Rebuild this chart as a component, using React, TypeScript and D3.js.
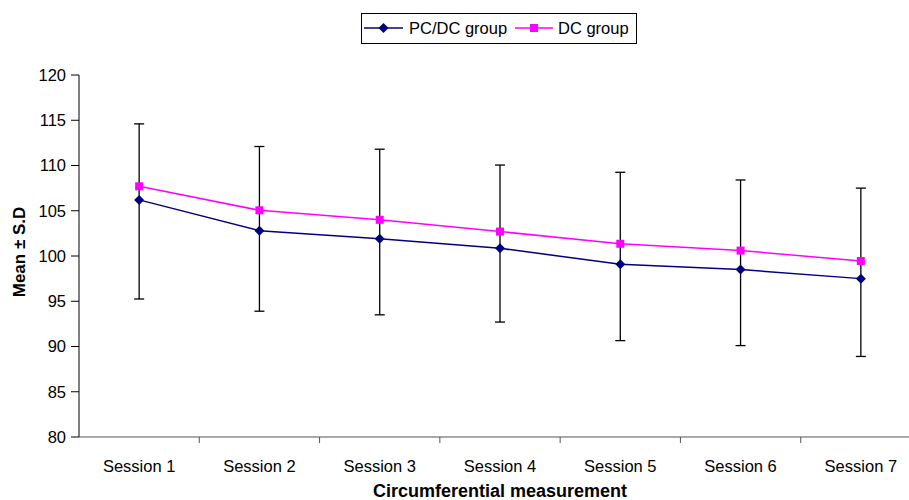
import React from "react";
import * as d3 from "d3";

const sessions = ["Session 1", "Session 2", "Session 3", "Session 4", "Session 5", "Session 6", "Session 7"];
const pcdcMeans = [106.2, 102.8, 101.9, 100.85, 99.1, 98.5, 97.5];
const dcMeans = [107.7, 105.05, 104.0, 102.7, 101.35, 100.6, 99.45];
const errUpper = [114.6, 112.1, 111.8, 110.05, 109.25, 108.4, 107.5];
const errLower = [95.25, 93.9, 93.5, 92.7, 90.65, 90.1, 88.9];
const yTicks = [80, 85, 90, 95, 100, 105, 110, 115, 120];
const seriesNames = ["PC/DC group", "DC group"];

const W = 909;
const H = 500;
const left = 79;
const right = 921;
const top = 75;
const bottom = 437;

export default function App() {
  const x = d3.scaleBand<string>().domain(sessions).range([left, right]).padding(0);
  const y = d3.scaleLinear().domain([80, 120]).range([bottom, top]);
  const cx = (s: string) => (x(s) as number) + x.bandwidth() / 2;

  const line = d3
    .line<number>()
    .x((_, i) => cx(sessions[i]))
    .y((d) => y(d));

  const font = "Arial, 'Liberation Sans', sans-serif";
  const diamond = (px: number, py: number, r: number) =>
    `M${px},${py - r}L${px + r},${py}L${px},${py + r}L${px - r},${py}Z`;

  return (
    <svg width={W} height={H} style={{ position: "absolute", left: 0, top: 0, background: "#fff" }} fontFamily={font}>
      <rect x={0} y={0} width={W} height={H} fill="#fff" />
      {/* y axis */}
      <line x1={left} x2={left} y1={top} y2={bottom} stroke="#000" strokeWidth={1} />
      {yTicks.map((t) => (
        <g key={t}>
          <line x1={left - 8} x2={left} y1={y(t)} y2={y(t)} stroke="#000" strokeWidth={1} />
          <text x={left - 13} y={y(t)} dy="0.35em" textAnchor="end" fontSize={16.5} fill="#000">
            {t}
          </text>
        </g>
      ))}
      {/* x axis */}
      <line x1={left} x2={right} y1={bottom} y2={bottom} stroke="#555" strokeWidth={1.2} />
      {sessions.map((s, i) => (
        <g key={s}>
          {i > 0 && (
            <line x1={x(s)} x2={x(s)} y1={bottom} y2={bottom + 6} stroke="#555" strokeWidth={1} />
          )}
          <text x={cx(s)} y={472} textAnchor="middle" fontSize={16.5} fill="#000">
            {s}
          </text>
        </g>
      ))}
      {/* titles */}
      <text x={500} y={497} textAnchor="middle" fontSize={18} fontWeight="bold" fill="#000">
        Circumferential measurement
      </text>
      <text
        transform={`translate(24.5,252) rotate(-90)`}
        textAnchor="middle"
        fontSize={17}
        fontWeight="bold"
        fill="#000"
      >
        Mean ± S.D
      </text>
      {/* error bars */}
      {sessions.map((s, i) => (
        <g key={"e" + s} stroke="#000" strokeWidth={1.3}>
          <line x1={cx(s)} x2={cx(s)} y1={y(errUpper[i])} y2={y(errLower[i])} />
          <line x1={cx(s) - 5} x2={cx(s) + 5} y1={y(errUpper[i])} y2={y(errUpper[i])} />
          <line x1={cx(s) - 5} x2={cx(s) + 5} y1={y(errLower[i])} y2={y(errLower[i])} />
        </g>
      ))}
      {/* lines */}
      <path d={line(dcMeans) || ""} fill="none" stroke="#FF00FF" strokeWidth={1.5} />
      <path d={line(pcdcMeans) || ""} fill="none" stroke="#000080" strokeWidth={1.5} />
      {dcMeans.map((v, i) => (
        <rect key={"d" + i} x={cx(sessions[i]) - 4} y={y(v) - 4} width={8} height={8} fill="#FF00FF" />
      ))}
      {pcdcMeans.map((v, i) => (
        <path key={"p" + i} d={diamond(cx(sessions[i]), y(v), 5)} fill="#000080" />
      ))}
      {/* legend */}
      <rect x={361.5} y={13.5} width={275} height={30} fill="#fff" stroke="#000" strokeWidth={1} />
      <line x1={364} x2={403} y1={28} y2={28} stroke="#000080" strokeWidth={1.5} />
      <path d={diamond(383.5, 28, 5)} fill="#000080" />
      <text x={409} y={34} fontSize={16.5} fill="#000">
        {seriesNames[0]}
      </text>
      <line x1={515} x2={553} y1={28} y2={28} stroke="#FF00FF" strokeWidth={1.5} />
      <rect x={530} y={24} width={8} height={8} fill="#FF00FF" />
      <text x={558} y={34} fontSize={16.5} fill="#000">
        {seriesNames[1]}
      </text>
    </svg>
  );
}
